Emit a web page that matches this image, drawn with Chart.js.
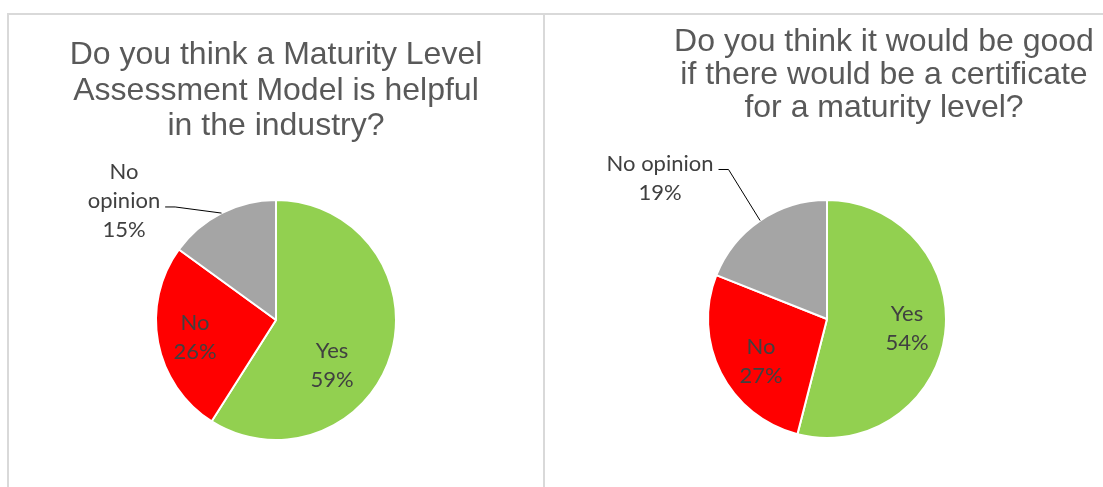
<!DOCTYPE html>
<html>
<head>
<meta charset="utf-8">
<script src="https://cdn.jsdelivr.net/npm/chart.js@4"></script>
<style>
  body { margin: 0; background: #fff; width: 1103px; height: 487px; overflow: hidden; position: relative; }
  canvas { position: absolute; top: 0; }
  .rule { position: absolute; background: #d9d9d9; }
</style>
</head>
<body>
<div class="rule" style="left:7px; top:13px; width:1096px; height:2px;"></div>
<div class="rule" style="left:7px; top:13px; width:2px; height:474px;"></div>
<div class="rule" style="left:543px; top:13px; width:2px; height:474px;"></div>
<canvas id="helpfulChart" width="534" height="487" style="left:9px"></canvas>
<canvas id="certificateChart" width="557" height="487" style="left:546px"></canvas>
<script>
// données
const categories = ["Yes", "No", "No opinion"];
const helpfulValues = [59, 26, 15];
const certificateValues = [54, 27, 19];
const helpfulTitle = ["Do you think a Maturity Level", "Assessment Model is helpful", "in the industry?"];
const certificateTitle = ["Do you think it would be good", "if there would be a certificate", "for a maturity level?"];
const sliceColors = ["#92D050", "#FF0000", "#A5A5A5"];

// titre multi-ligne centré où on veut
const panelTitle = {
  id: "panelTitle",
  afterDraw(chart, args, opts) {
    const ctx = chart.ctx;
    ctx.save();
    ctx.font = '32px "Liberation Sans", Arial, sans-serif';
    ctx.fillStyle = "#595959";
    ctx.textAlign = "center";
    ctx.textBaseline = "alphabetic";
    opts.lines.forEach((t, i) => ctx.fillText(t, opts.x, opts.y + i * opts.lineHeight));
    ctx.restore();
  }
};

// étiquettes des parts (catégorie + %), avec trait de rappel si besoin
const pieLabels = {
  id: "pieLabels",
  afterDatasetsDraw(chart, args, opts) {
    const ctx = chart.ctx;
    const meta = chart.getDatasetMeta(0);
    const data = chart.data.datasets[0].data;
    const total = data.reduce((a, b) => a + b, 0);
    ctx.save();
    ctx.font = opts.font;
    ctx.fillStyle = opts.color;
    ctx.textAlign = "center";
    ctx.textBaseline = "middle";
    meta.data.forEach((arc, i) => {
      const p = arc.getProps(["x", "y", "outerRadius", "startAngle", "endAngle"], true);
      const place = opts.places[i];
      const name = chart.data.labels[i];
      const lines = (place.wrap ? name.split(" ") : [name]).concat(Math.round(data[i] / total * 100) + "%");
      const cx = p.x + place.dx * p.outerRadius;
      const cy = p.y + place.dy * p.outerRadius;
      const top = cy - (lines.length - 1) * opts.lineHeight / 2;
      lines.forEach((t, k) => ctx.fillText(t, cx, top + k * opts.lineHeight));
      if (place.leader !== undefined) {
        const k = place.leader;
        const w = ctx.measureText(lines[k]).width;
        const sx = cx + w / 2 + 5, sy = top + k * opts.lineHeight + 6;
        const mid = (p.startAngle + p.endAngle) / 2;
        ctx.beginPath();
        ctx.moveTo(sx, sy);
        ctx.lineTo(sx + 10, sy);
        ctx.lineTo(p.x + Math.cos(mid) * p.outerRadius, p.y + Math.sin(mid) * p.outerRadius);
        ctx.strokeStyle = "#000";
        ctx.lineWidth = 1;
        ctx.stroke();
      }
    });
    ctx.restore();
  }
};

function drawPie(id, values, title, titlePos, padding, places) {
  const ctx = document.getElementById(id).getContext("2d");
  return new Chart(ctx, {
    type: "pie",
    data: {
      labels: categories,
      datasets: [{
        data: values,
        backgroundColor: sliceColors,
        borderColor: "#fff",
        borderWidth: 2
      }]
    },
    options: {
      responsive: false,
      animation: false,
      devicePixelRatio: 1,
      layout: { padding: padding },
      plugins: {
        legend: { display: false },
        tooltip: { enabled: false },
        panelTitle: { lines: title, x: titlePos.x, y: titlePos.y, lineHeight: titlePos.lh },
        pieLabels: {
          font: '22px Lato, "Noto Sans", sans-serif',
          color: "#404040",
          lineHeight: 29,
          places: places
        }
      }
    },
    plugins: [panelTitle, pieLabels]
  });
}

drawPie("helpfulChart", helpfulValues, helpfulTitle, { x: 267, y: 64, lh: 35.5 },
  { top: 199, bottom: 46, left: 0, right: 0 },
  [
    { dx: 0.467, dy: 0.375 },
    { dx: -0.675, dy: 0.142 },
    { dx: -1.267, dy: -0.992, wrap: true, leader: 1 }
  ]);

drawPie("certificateChart", certificateValues, certificateTitle, { x: 338, y: 51, lh: 33 },
  { top: 199, bottom: 48, left: 5, right: 0 },
  [
    { dx: 0.672, dy: 0.076 },
    { dx: -0.555, dy: 0.353 },
    { dx: -1.403, dy: -1.185, leader: 0 }
  ]);
</script>
</body>
</html>
